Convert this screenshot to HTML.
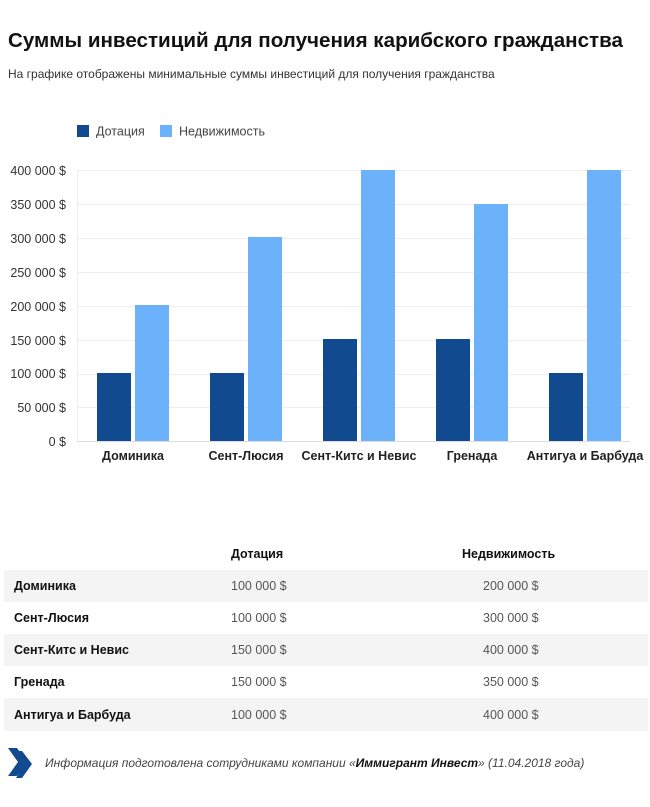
<!DOCTYPE html><html><head><meta charset="utf-8"><style>
body{margin:0;width:650px;height:807px;background:#fff;font-family:"Liberation Sans",sans-serif;color:#111;position:relative;overflow:hidden}
.a{position:absolute;white-space:nowrap}
</style></head><body>
<div class="a" style="left:8px;top:29px;font-size:20.6px;font-weight:bold">Суммы инвестиций для получения карибского гражданства</div>
<div class="a" style="left:8px;top:67px;font-size:12px;color:#333">На графике отображены минимальные суммы инвестиций для получения гражданства</div>
<svg class="a" style="left:0;top:0" width="650" height="530">
<rect x="77" y="125" width="12" height="12" fill="#124a8f"/>
<text x="96" y="135.5" font-size="12.5" fill="#444">Дотация</text>
<rect x="160" y="125" width="12" height="12" fill="#6bb2fb"/>
<text x="179" y="135.5" font-size="12.5" fill="#444">Недвижимость</text>
<g stroke="#eee" stroke-width="1">
<line x1="77" x2="630" y1="170.5" y2="170.5"/><line x1="77" x2="630" y1="204.5" y2="204.5"/><line x1="77" x2="630" y1="238.5" y2="238.5"/><line x1="77" x2="630" y1="272.5" y2="272.5"/><line x1="77" x2="630" y1="306.5" y2="306.5"/><line x1="77" x2="630" y1="340.5" y2="340.5"/><line x1="77" x2="630" y1="374.5" y2="374.5"/><line x1="77" x2="630" y1="407.5" y2="407.5"/>
<line x1="77.5" x2="77.5" y1="170" y2="441"/>
</g>
<line x1="77" x2="630" y1="441.5" y2="441.5" stroke="#ddd"/>
<g font-size="12.5" fill="#333" text-anchor="end">
<text x="66" y="175">400 000 $</text><text x="66" y="209">350 000 $</text><text x="66" y="243">300 000 $</text><text x="66" y="277">250 000 $</text><text x="66" y="311">200 000 $</text><text x="66" y="345">150 000 $</text><text x="66" y="378">100 000 $</text><text x="66" y="412">50 000 $</text><text x="66" y="446">0 $</text>
</g>
<g fill="#124a8f">
<rect x="97" y="373" width="34" height="68"/><rect x="210" y="373" width="34" height="68"/><rect x="323" y="339" width="34" height="102"/><rect x="436" y="339" width="34" height="102"/><rect x="549" y="373" width="34" height="68"/>
</g>
<g fill="#6bb2fb">
<rect x="135" y="305" width="34" height="136"/><rect x="248" y="237" width="34" height="204"/><rect x="361" y="170" width="34" height="271"/><rect x="474" y="204" width="34" height="237"/><rect x="587" y="170" width="34" height="271"/>
</g>
<g font-size="12.5" font-weight="bold" fill="#222" text-anchor="middle">
<text x="133" y="460">Доминика</text><text x="246" y="460">Сент-Люсия</text><text x="359" y="460">Сент-Китс и Невис</text><text x="472" y="460">Гренада</text><text x="585" y="460">Антигуа и Барбуда</text>
</g>
</svg>
<div class="a" style="left:4px;top:537px;width:644px;height:194px;font-size:12.5px">
<div style="position:absolute;top:0;height:33px;width:100%"><span class="a" style="left:227px;top:10px;font-weight:bold">Дотация</span><span class="a" style="left:458px;top:10px;font-weight:bold">Недвижимость</span></div>
<div style="position:absolute;top:33px;height:32px;width:100%;background:#f4f4f4"><span class="a" style="left:10px;top:9px;font-weight:bold">Доминика</span><span class="a" style="left:227px;top:9px;color:#555">100 000 $</span><span class="a" style="left:479px;top:9px;color:#555">200 000 $</span></div>
<div style="position:absolute;top:65px;height:32px;width:100%"><span class="a" style="left:10px;top:9px;font-weight:bold">Сент-Люсия</span><span class="a" style="left:227px;top:9px;color:#555">100 000 $</span><span class="a" style="left:479px;top:9px;color:#555">300 000 $</span></div>
<div style="position:absolute;top:97px;height:32px;width:100%;background:#f4f4f4"><span class="a" style="left:10px;top:9px;font-weight:bold">Сент-Китс и Невис</span><span class="a" style="left:227px;top:9px;color:#555">150 000 $</span><span class="a" style="left:479px;top:9px;color:#555">400 000 $</span></div>
<div style="position:absolute;top:129px;height:32px;width:100%"><span class="a" style="left:10px;top:9px;font-weight:bold">Гренада</span><span class="a" style="left:227px;top:9px;color:#555">150 000 $</span><span class="a" style="left:479px;top:9px;color:#555">350 000 $</span></div>
<div style="position:absolute;top:161px;height:33px;width:100%;background:#f4f4f4"><span class="a" style="left:10px;top:10px;font-weight:bold">Антигуа и Барбуда</span><span class="a" style="left:227px;top:10px;color:#555">100 000 $</span><span class="a" style="left:479px;top:10px;color:#555">400 000 $</span></div>
</div>
<svg class="a" style="left:8px;top:748px" width="28" height="32"><path d="M0 0 L9 0 L19 14 L9 28 L0 28 L10 14Z M8 3 L14 3 L24 16 L14 30 L8 30 L17 16Z" fill="#124a8f"/></svg>
<div class="a" style="left:45px;top:756px;font-size:12px;font-style:italic;color:#444">Информация подготовлена сотрудниками компании «<b style="color:#111">Иммигрант Инвест</b>» (11.04.2018 года)</div>
</body></html>
